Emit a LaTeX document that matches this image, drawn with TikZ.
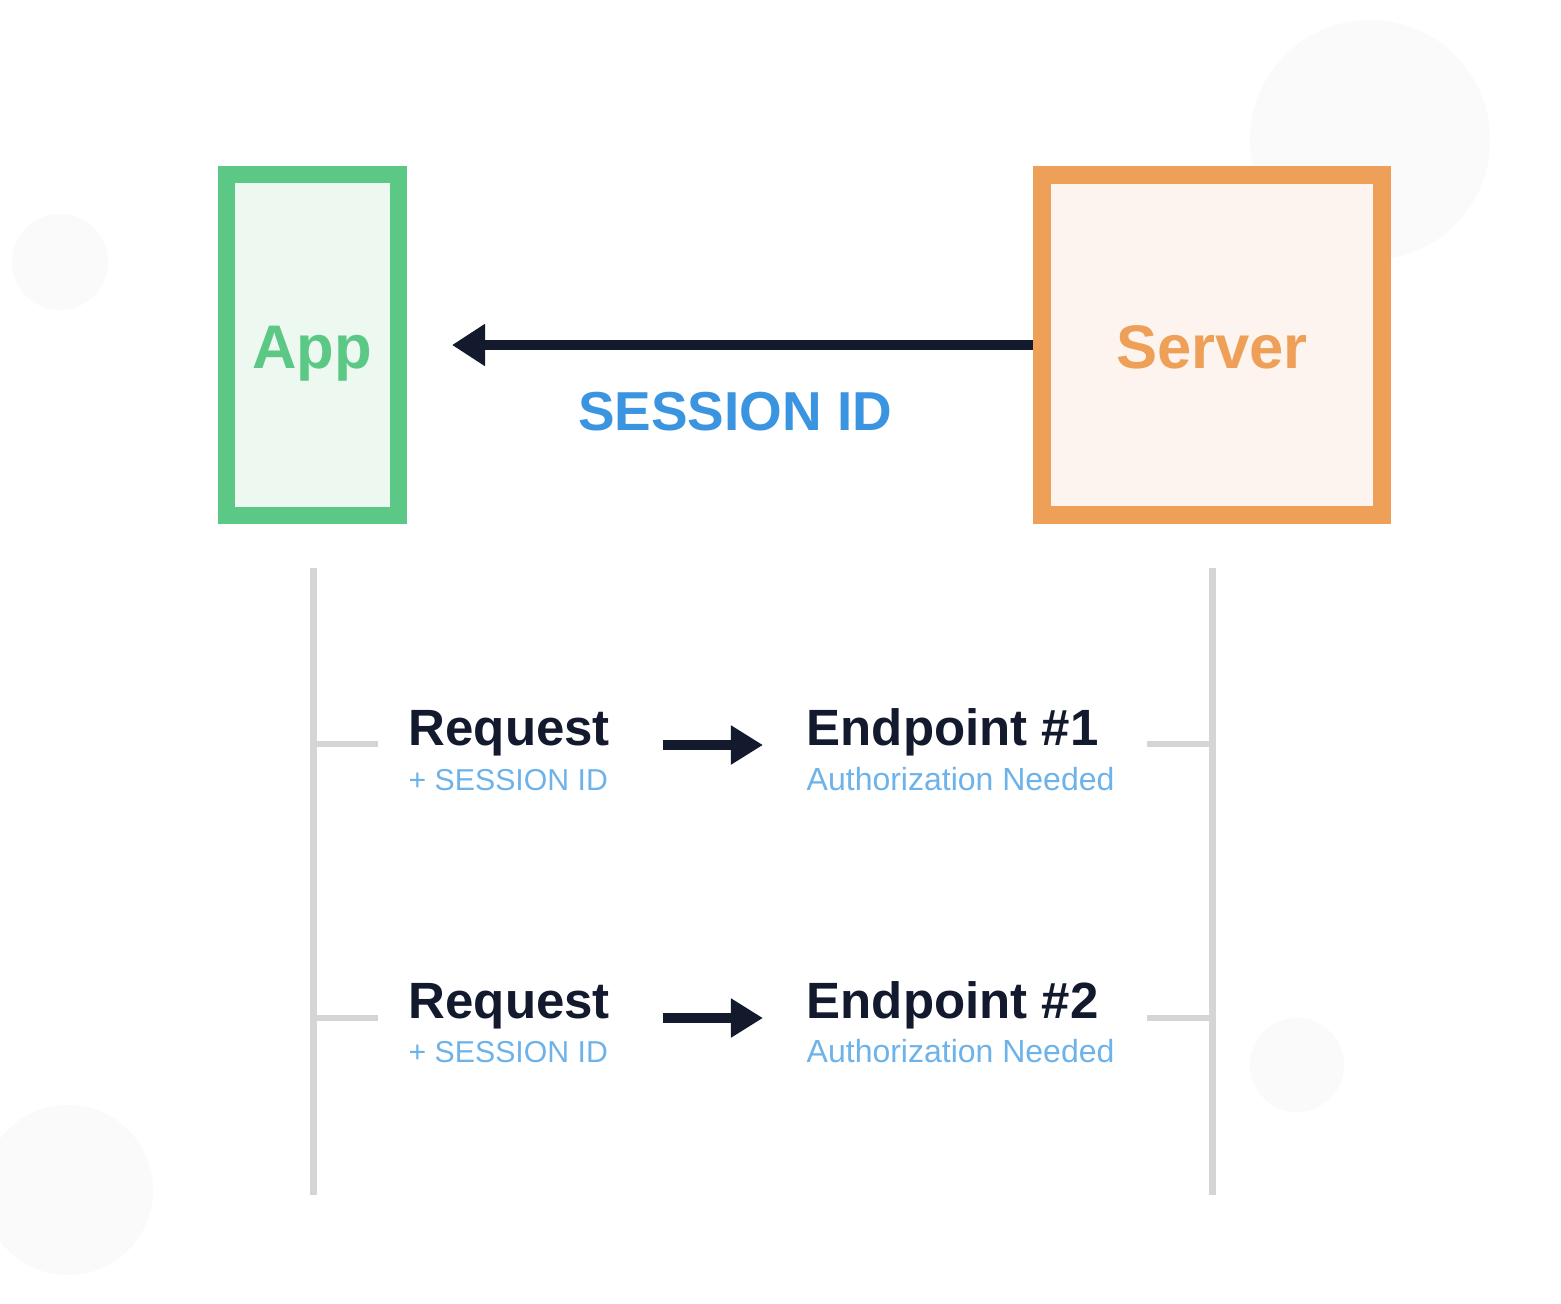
\documentclass[tikz,border=0pt]{standalone}
\usepackage{fontspec}
\setmainfont{Liberation Sans}
\usetikzlibrary{arrows.meta}
\definecolor{appgreen}{HTML}{5CC886}
\definecolor{appfill}{HTML}{EDF8F1}
\definecolor{srvorange}{HTML}{EFA058}
\definecolor{srvfill}{HTML}{FDF4EF}
\definecolor{navy}{HTML}{131A2E}
\definecolor{sidblue}{HTML}{3B94E0}
\definecolor{lightblue}{HTML}{6DB3EA}
\definecolor{lifegray}{HTML}{D5D5D5}
\definecolor{bgcirc}{HTML}{FAFAFA}
\tikzset{
  px/.style={x=0.01cm,y=-0.01cm},
  appbox/.style={draw=appgreen,fill=appfill,line width=0.17cm,minimum width=1.72cm,minimum height=3.41cm,inner sep=0pt},
  srvbox/.style={draw=srvorange,fill=srvfill,line width=0.18cm,minimum width=3.40cm,minimum height=3.40cm,inner sep=0pt},
  boxlabel/.style={anchor=base,inner sep=0pt,font=\fontsize{17.5}{20}\selectfont\bfseries},
  bigarrow/.style={draw=navy,line width=0.10cm,-{Triangle[length=0.33cm,width=0.40cm]}},
  smallarrow/.style={draw=navy,line width=0.10cm,-{Triangle[length=0.32cm,width=0.37cm]}},
  lifeline/.style={draw=lifegray,line width=0.07cm},
  tick/.style={draw=lifegray,line width=0.06cm},
  headtext/.style={anchor=base west,inner sep=0pt,text=navy,font=\fontsize{14.5}{17}\selectfont\bfseries},
  subtext/.style={anchor=base west,inner sep=0pt,text=lightblue},
  bgdot/.style={fill=bgcirc,draw=none}
}
\begin{document}
\begin{tikzpicture}[px]
\useasboundingbox (0,0) rectangle (1561,1303);
\fill[white] (0,0) rectangle (1561,1303);
% faint background circles
\path[bgdot] (1370,140) circle (120);
\path[bgdot] (60,262) circle (48);
\path[bgdot] (68,1190) circle (85);
\path[bgdot] (1297,1065) circle (47);

% boxes
\node[appbox] (app) at (312.5,345) {};
\node[srvbox] (server) at (1212,345) {};
\node[boxlabel,text=appgreen] (applbl) at (312,368) {App};
\node[boxlabel,text=srvorange] (srvlbl) at (1212,368) {Server};

% session id arrow
\coordinate (tipL) at (452,345);
\draw[bigarrow] (server.west) -- (tipL);
\node[anchor=base,inner sep=0pt,text=sidblue,font=\fontsize{15.6}{18}\selectfont\bfseries] (sid) at (735,430) {SESSION ID};

% lifelines
\coordinate (lAtop) at (313,568);
\coordinate (lAbot) at (313,1195);
\coordinate (lBtop) at (1212,568);
\coordinate (lBbot) at (1212,1195);
\draw[lifeline] (lAtop) -- (lAbot);
\draw[lifeline] (lBtop) -- (lBbot);

% row 1
\coordinate (t1a) at (313,744);
\coordinate (t1b) at (378,744);
\coordinate (t1c) at (1147,744);
\coordinate (t1d) at (1212,744);
\draw[tick] (t1a) -- (t1b);
\draw[tick] (t1c) -- (t1d);
\node[headtext] (req1) at (408,745) {Request};
\node[subtext,font=\fontsize{8.6}{10}\selectfont] (sub1) at (408,790) {+ SESSION ID};
\coordinate (a1s) at (663,745);
\coordinate (a1e) at (763,745);
\draw[smallarrow] (a1s) -- (a1e);
\node[headtext] (ep1) at (806,745) {Endpoint \#1};
\node[subtext,font=\fontsize{9.1}{11}\selectfont] (auth1) at (806,790) {Authorization Needed};

% row 2
\coordinate (t2a) at (313,1018);
\coordinate (t2b) at (378,1018);
\coordinate (t2c) at (1147,1018);
\coordinate (t2d) at (1212,1018);
\draw[tick] (t2a) -- (t2b);
\draw[tick] (t2c) -- (t2d);
\node[headtext] (req2) at (408,1018) {Request};
\node[subtext,font=\fontsize{8.6}{10}\selectfont] (sub2) at (408,1062) {+ SESSION ID};
\coordinate (a2s) at (663,1018);
\coordinate (a2e) at (763,1018);
\draw[smallarrow] (a2s) -- (a2e);
\node[headtext] (ep2) at (806,1018) {Endpoint \#2};
\node[subtext,font=\fontsize{9.1}{11}\selectfont] (auth2) at (806,1062) {Authorization Needed};
\end{tikzpicture}
\end{document}
